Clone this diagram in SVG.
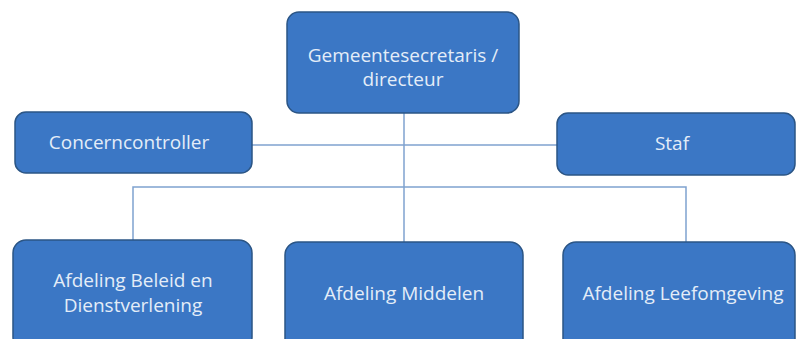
<svg xmlns="http://www.w3.org/2000/svg" width="796" height="339" viewBox="0 0 796 339">
<style>
.box{fill:#3b77c5;stroke:#2b5585;stroke-width:1.5}
.lbl{font-family:"Open Sans","Liberation Sans",sans-serif;font-size:19px;fill:#e4edf8;text-anchor:middle}
.con{stroke:#7fa2cf;stroke-width:1.5;fill:none}
</style>
<rect width="796" height="339" fill="#ffffff"/>
<g id="connectors">
<path class="con" d="M404 113V242"/>
<path class="con" d="M252 145H557"/>
<path class="con" d="M133 240V187H686V242"/>
</g>
<g id="gemeentesecretaris">
<rect class="box" x="287" y="12" width="232" height="101" rx="12"/>
<text class="lbl" x="403" y="62">Gemeentesecretaris /</text>
<text class="lbl" x="403" y="86">directeur</text>
</g>
<g id="concerncontroller">
<rect class="box" x="15" y="112" width="237" height="61" rx="11"/>
<text class="lbl" x="129" y="149">Concerncontroller</text>
</g>
<g id="staf">
<rect class="box" x="557" y="113" width="238" height="62" rx="11"/>
<text class="lbl" x="672" y="150">Staf</text>
</g>
<g id="afdeling-beleid">
<rect class="box" x="13" y="240" width="239" height="110" rx="13"/>
<text class="lbl" x="133" y="287">Afdeling Beleid en</text>
<text class="lbl" x="133" y="312">Dienstverlening</text>
</g>
<g id="afdeling-middelen">
<rect class="box" x="285" y="242" width="238" height="110" rx="13"/>
<text class="lbl" x="404" y="300">Afdeling Middelen</text>
</g>
<g id="afdeling-leefomgeving">
<rect class="box" x="563" y="242" width="232" height="110" rx="13"/>
<text class="lbl" x="683" y="300">Afdeling Leefomgeving</text>
</g>
</svg>
